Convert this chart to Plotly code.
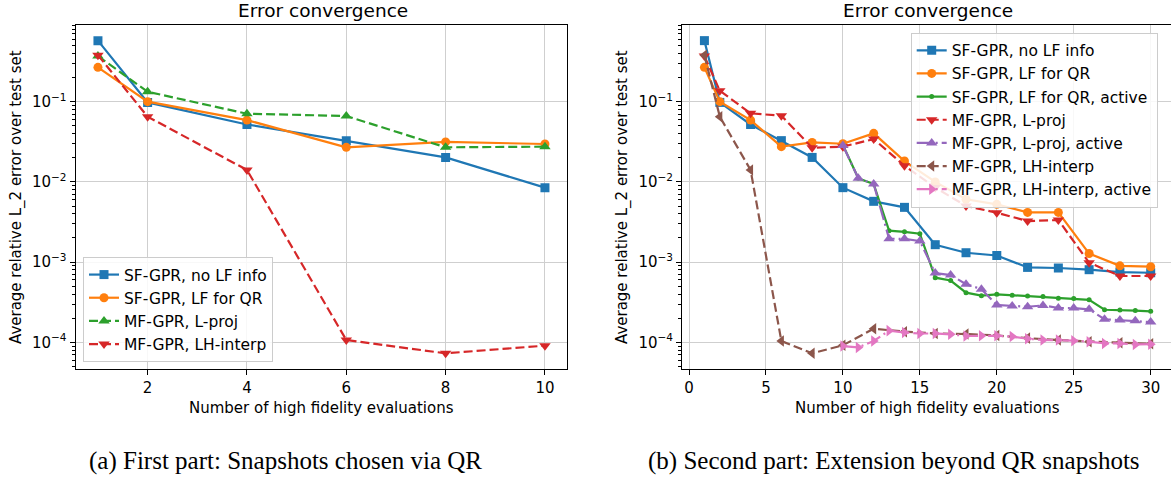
import plotly.graph_objects as go

# ---------------- data ----------------
x_left = [1, 2, 4, 6, 8, 10]
left_sf_nolf = [0.577, 0.098, 0.052, 0.0327, 0.0202, 0.00848]
left_sf_lfqr = [0.268, 0.100, 0.059, 0.0270, 0.0315, 0.0297]
left_mf_lproj = [0.37, 0.133, 0.0708, 0.0663, 0.0270, 0.0275]
left_mf_lh = [0.38, 0.065, 0.0141, 1.07e-4, 7.3e-5, 9.1e-5]

x_qr = [1, 2, 4, 6, 8, 10, 12, 14, 16, 18, 20, 22, 24, 26, 28, 30]
right_sf_nolf = [0.577, 0.098, 0.052, 0.0327, 0.0202, 0.00848, 0.00573, 0.00482,
                 0.00165, 0.00131, 0.00121, 0.00086, 0.000845, 0.000805, 0.000753, 0.000738]
right_sf_lfqr = [0.268, 0.100, 0.059, 0.0275, 0.0311, 0.0299, 0.0403, 0.0182,
                 0.0100, 0.00607, 0.00525, 0.00417, 0.00417, 0.00128, 0.00090, 0.000877]
right_mf_lproj = [0.37, 0.137, 0.0716, 0.0668, 0.0267, 0.0275, 0.0342, 0.0159,
                  0.0085, 0.00502, 0.00413, 0.00325, 0.00335, 0.000984, 0.000672, 0.000672]
right_mf_lh = [0.38, 0.065, 0.0141, 1.04e-4, 7.3e-5, 9.2e-5, 1.48e-4, 1.36e-4,
               1.29e-4, 1.27e-4, 1.22e-4, 1.13e-4, 1.07e-4, 1.02e-4, 9.9e-5, 9.6e-5]

x_active = [10, 11, 12, 13, 14, 15, 16, 17, 18, 19, 20, 21, 22, 23, 24, 25, 26, 27, 28, 29, 30]
right_sf_lfqr_active = [0.0289, 0.0111, 0.0094, 0.00247, 0.00239, 0.00226, 0.00064, 0.00059,
                        0.000416, 0.000382, 0.000397, 0.000386, 0.000379, 0.000372, 0.000355,
                        0.000352, 0.000339, 0.000255, 0.000254, 0.000249, 0.000244]
right_mf_lproj_active = [0.0285, 0.0111, 0.0094, 0.00196, 0.00195, 0.00183, 0.00073, 0.00069,
                         0.000532, 0.00046, 0.000292, 0.000284, 0.000278, 0.000289, 0.000268,
                         0.000268, 0.000258, 0.000194, 0.00019, 0.000186, 0.000179]
right_mf_lh_active = [9.0e-5, 8.65e-5, 1.04e-4, 1.40e-4, 1.33e-4, 1.29e-4, 1.29e-4, 1.26e-4,
                      1.20e-4, 1.21e-4, 1.21e-4, 1.18e-4, 1.11e-4, 1.07e-4, 1.07e-4,
                      1.05e-4, 1.02e-4, 9.7e-5, 9.7e-5, 9.4e-5, 9.5e-5]

ytick_vals = [1e-4, 1e-3, 1e-2, 1e-1]
ytick_text = ["10<sup>\u22124</sup>", "10<sup>\u22123</sup>", "10<sup>\u22122</sup>", "10<sup>\u22121</sup>"]

title_text = "Error convergence"
xlabel_text = "Number of high fidelity evaluations"
ylabel_text = "Average relative L_2 error over test set"
caption_a = "(a) First part: Snapshots chosen via QR"
caption_b = "(b) Second part: Extension beyond QR snapshots"

# ---------------- style ----------------
W, H = 1171, 478
FONT = "DejaVu Sans"
SERIF = "Liberation Serif"
C = {"blue": "#1f77b4", "orange": "#ff7f0e", "green": "#2ca02c", "red": "#d62728",
     "purple": "#9467bd", "brown": "#8c564b", "pink": "#e377c2"}
LW = 2.2
DASH = "9px,4px"
DASHDOT = "15px,4px,2px,4px"


def fx(p):
    return p / W


def fy(p):
    return 1 - p / H


fig = go.Figure()


def add(x, y, name, color, symbol, size, dash, xa, ya, legend):
    fig.add_trace(go.Scatter(
        x=x, y=y, name=name, mode="lines+markers",
        line=dict(color=color, width=LW, dash=dash),
        marker=dict(color=color, symbol=symbol, size=size, line=dict(width=0)),
        xaxis=xa, yaxis=ya, legend=legend))


# left subplot
add(x_left, left_sf_nolf, "SF-GPR, no LF info", C["blue"], "square", 9, "solid", "x", "y", "legend")
add(x_left, left_sf_lfqr, "SF-GPR, LF for QR", C["orange"], "circle", 9, "solid", "x", "y", "legend")
add(x_left, left_mf_lproj, "MF-GPR, L-proj", C["green"], "triangle-up", 10, DASH, "x", "y", "legend")
add(x_left, left_mf_lh, "MF-GPR, LH-interp", C["red"], "triangle-down", 10, DASH, "x", "y", "legend")

# right subplot
add(x_qr, right_sf_nolf, "SF-GPR, no LF info", C["blue"], "square", 9, "solid", "x2", "y2", "legend2")
add(x_qr, right_sf_lfqr, "SF-GPR, LF for QR", C["orange"], "circle", 9, "solid", "x2", "y2", "legend2")
add(x_active, right_sf_lfqr_active, "SF-GPR, LF for QR, active", C["green"], "circle", 5, "solid", "x2", "y2", "legend2")
add(x_qr, right_mf_lproj, "MF-GPR, L-proj", C["red"], "triangle-down", 10, DASH, "x2", "y2", "legend2")
add(x_active, right_mf_lproj_active, "MF-GPR, L-proj, active", C["purple"], "triangle-up", 10, DASHDOT, "x2", "y2", "legend2")
add(x_qr, right_mf_lh, "MF-GPR, LH-interp", C["brown"], "triangle-left", 10, DASH, "x2", "y2", "legend2")
add(x_active, right_mf_lh_active, "MF-GPR, LH-interp, active", C["pink"], "triangle-right", 10, DASHDOT, "x2", "y2", "legend2")

minor_vals = [m * 10 ** e for e in range(-5, 1) for m in range(2, 10)]

tickfont = dict(family=FONT, size=15, color="black")

common_x = dict(showgrid=True, gridcolor="#cfcfcf", gridwidth=1.2, showline=True,
                linecolor="black", linewidth=1.2, mirror=True, ticks="outside", ticklen=5,
                tickwidth=1.2, tickcolor="black", tickfont=tickfont, zeroline=False)
common_y = dict(type="log", range=[-4.332, -0.044], tickvals=ytick_vals, ticktext=ytick_text,
                showgrid=True, gridcolor="#cfcfcf", gridwidth=1.2, showline=True,
                linecolor="black", linewidth=1.2, ticks="outside", ticklen=5, tickwidth=1.2,
                tickcolor="black", tickfont=tickfont, zeroline=False,
                minor=dict(tickvals=minor_vals, ticks="outside", ticklen=3, tickwidth=0.9,
                           tickcolor="black", showgrid=False),
                domain=[fy(369), fy(25)])

legend_font = dict(family=FONT, size=15.5, color="black")

fig.update_layout(
    width=W, height=H, margin=dict(l=0, r=0, t=0, b=0),
    paper_bgcolor="white", plot_bgcolor="white",
    font=dict(family=FONT, size=15, color="black"),
    xaxis=dict(common_x, domain=[fx(75.6), fx(567.3)], range=[0.55, 10.45], tick0=0, dtick=2, anchor="y"),
    yaxis=dict(common_y, anchor="x", mirror=True),
    xaxis2=dict(common_x, domain=[fx(682.1), 1.0], range=[-0.45, 31.32], tick0=0, dtick=5, anchor="y2"),
    yaxis2=dict(common_y, anchor="x2", mirror=False),
    legend=dict(x=fx(83), y=fy(362), xanchor="left", yanchor="bottom",
                bgcolor="rgba(255,255,255,0.85)", bordercolor="#cccccc", borderwidth=1,
                font=legend_font, tracegroupgap=0),
    legend2=dict(x=fx(910.7), y=fy(32.7), xanchor="left", yanchor="top",
                 bgcolor="rgba(255,255,255,0.85)", bordercolor="#cccccc", borderwidth=1,
                 font=legend_font, tracegroupgap=0),
    showlegend=True,
)

ann = []
for cx in (322.5, 928):
    ann.append(dict(text=title_text, x=fx(cx), y=fy(11), xref="paper", yref="paper",
                    showarrow=False, font=dict(family=FONT, size=18.5, color="black"),
                    xanchor="center", yanchor="middle"))
for cx in (321.5, 927.5):
    ann.append(dict(text=xlabel_text, x=fx(cx), y=fy(408), xref="paper", yref="paper",
                    showarrow=False, font=dict(family=FONT, size=15, color="black"),
                    xanchor="center", yanchor="middle"))
for cx in (16, 622):
    ann.append(dict(text=ylabel_text, x=fx(cx), y=fy(197), xref="paper", yref="paper",
                    showarrow=False, textangle=-90, font=dict(family=FONT, size=15, color="black"),
                    xanchor="center", yanchor="middle"))
for cx, txt in ((285, caption_a), (894, caption_b)):
    ann.append(dict(text=txt, x=fx(cx), y=fy(461), xref="paper", yref="paper",
                    showarrow=False, font=dict(family=SERIF, size=25, color="black"),
                    xanchor="center", yanchor="middle"))
fig.update_layout(annotations=ann)

fig.write_html("out.html", config={"displayModeBar": False},
               post_script="document.body.style.margin='0';document.body.style.overflow='hidden';")
